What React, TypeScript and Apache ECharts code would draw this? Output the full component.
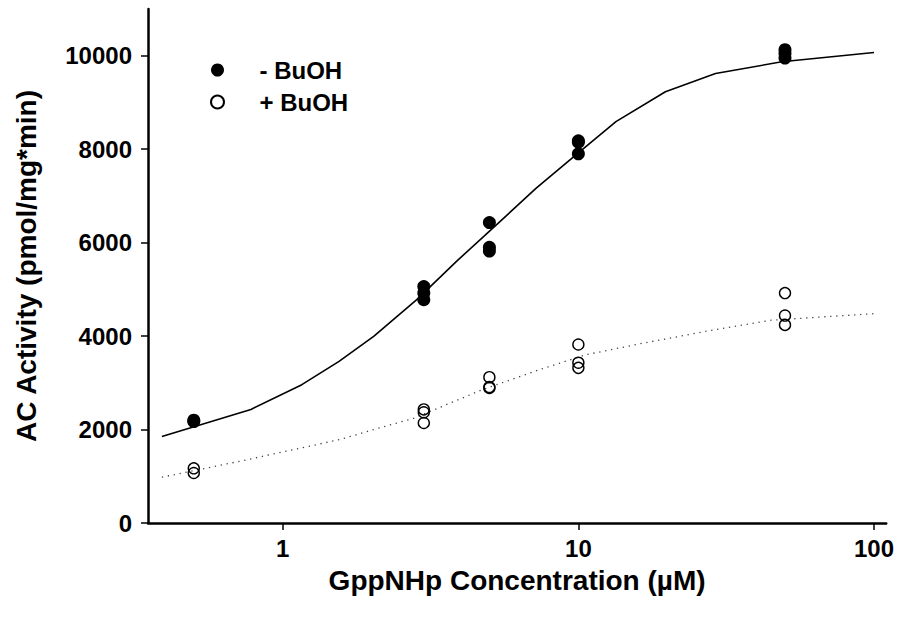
import { useEffect, useRef } from "react";
import * as echarts from "echarts";

// Measured adenylyl cyclase activity, without butanol
const concMinusBuOH = [0.5, 0.5, 3, 3, 3, 5, 5, 5, 10, 10, 10, 50, 50, 50];
const activityMinusBuOH = [2200, 2170, 5060, 4920, 4780, 6430, 5900, 5820, 8180, 8150, 7900, 10130, 10050, 9950];

// Measured adenylyl cyclase activity, with butanol
const concPlusBuOH = [0.5, 0.5, 3, 3, 3, 5, 5, 5, 10, 10, 10, 50, 50, 50];
const activityPlusBuOH = [1170, 1070, 2430, 2370, 2140, 3120, 2910, 2890, 3820, 3430, 3320, 4920, 4440, 4240];

// Fitted dose-response curve, without butanol
const fitConcMinus = [0.39, 0.78, 1.16, 1.55, 2.03, 2.84, 3.87, 5.28, 7.2, 9.95, 13.4, 19.7, 29.1, 48.8, 100];
const fitMinus = [1850, 2430, 2960, 3460, 3995, 4780, 5600, 6380, 7165, 7910, 8590, 9230, 9620, 9870, 10070];

// Fitted dose-response curve, with butanol
const fitConcPlus = [0.39, 0.72, 1.0, 1.57, 2.03, 2.77, 4.76, 7.38, 10.6, 16, 26.9, 45, 100];
const fitPlus = [980, 1325, 1520, 1790, 2000, 2240, 2860, 3280, 3600, 3830, 4100, 4340, 4480];

const xTicks = [1, 10, 100];
const yTicks = [0, 2000, 4000, 6000, 8000, 10000];

const seriesNames = ["- BuOH", "+ BuOH"];

const FONT = "'Liberation Sans', Arial, Helvetica, sans-serif";

const zip = (xs: number[], ys: number[]) => xs.map((x, i) => [x, ys[i]]);

export default function App() {
  const ref = useRef<HTMLDivElement>(null);

  useEffect(() => {
    if (!ref.current) return;
    const chart = echarts.init(ref.current, undefined, { renderer: "svg" });
    chart.setOption({
      animation: false,
      backgroundColor: "#ffffff",
      textStyle: { fontFamily: FONT, color: "#000" },
      grid: { left: 148, right: 9, top: 9, bottom: 102 },
      legend: {
        orient: "vertical",
        left: 205,
        top: 53,
        itemWidth: 74,
        itemHeight: 13,
        itemGap: 8,
        data: seriesNames,
        textStyle: { fontFamily: FONT, fontSize: 24, fontWeight: "bold", color: "#000" },
      },
      xAxis: {
        type: "log",
        logBase: 10,
        min: 0.35,
        max: 110,
        name: "GppNHp Concentration (\u00b5M)",
        nameLocation: "middle",
        nameGap: 43,
        nameTextStyle: { fontFamily: FONT, fontSize: 28, fontWeight: "bold", color: "#000" },
        axisLine: { lineStyle: { color: "#000", width: 2.5 } },
        axisTick: { show: true, length: 7, lineStyle: { color: "#000", width: 1.5 }, customValues: xTicks },
        axisLabel: {
          customValues: xTicks,
          margin: 13,
          fontFamily: FONT,
          fontSize: 24,
          fontWeight: "bold",
          color: "#000",
          formatter: (v: number) => String(v),
        },
        minorTick: { show: false },
        splitLine: { show: false },
      },
      yAxis: {
        type: "value",
        min: 0,
        max: 11000,
        name: "AC Activity (pmol/mg*min)",
        nameLocation: "middle",
        nameGap: 108,
        nameTextStyle: { fontFamily: FONT, fontSize: 28, fontWeight: "bold", color: "#000" },
        axisLine: { show: true, lineStyle: { color: "#000", width: 2.5 } },
        axisTick: { show: true, length: 7, lineStyle: { color: "#000", width: 1.5 }, customValues: yTicks },
        axisLabel: {
          customValues: yTicks,
          margin: 16,
          fontFamily: FONT,
          fontSize: 24,
          fontWeight: "bold",
          color: "#000",
          formatter: (v: number) => String(v),
        },
        splitLine: { show: false },
      },
      series: [
        {
          name: "fit -",
          type: "line",
          data: zip(fitConcMinus, fitMinus),
          showSymbol: false,
          symbol: "none",
          lineStyle: { color: "#000", width: 1.6 },
          z: 2,
        },
        {
          name: "fit +",
          type: "line",
          data: zip(fitConcPlus, fitPlus),
          showSymbol: false,
          symbol: "none",
          lineStyle: { color: "#444", width: 1.3, type: [1.3, 4.7] },
          z: 2,
        },
        {
          name: seriesNames[0],
          type: "scatter",
          data: zip(concMinusBuOH, activityMinusBuOH),
          symbol: "circle",
          symbolSize: 13,
          itemStyle: { color: "#000", opacity: 1 },
          z: 3,
        },
        {
          name: seriesNames[1],
          type: "scatter",
          data: zip(concPlusBuOH, activityPlusBuOH),
          symbol: "circle",
          symbolSize: 11,
          itemStyle: { color: "rgba(255,255,255,0)", borderColor: "#000", borderWidth: 1.4, opacity: 1 },
          z: 3,
        },
      ],
    });
    return () => chart.dispose();
  }, []);

  return (
    <div
      ref={ref}
      style={{ position: "absolute", left: 0, top: 0, width: 897, height: 625, background: "#fff" }}
    />
  );
}
